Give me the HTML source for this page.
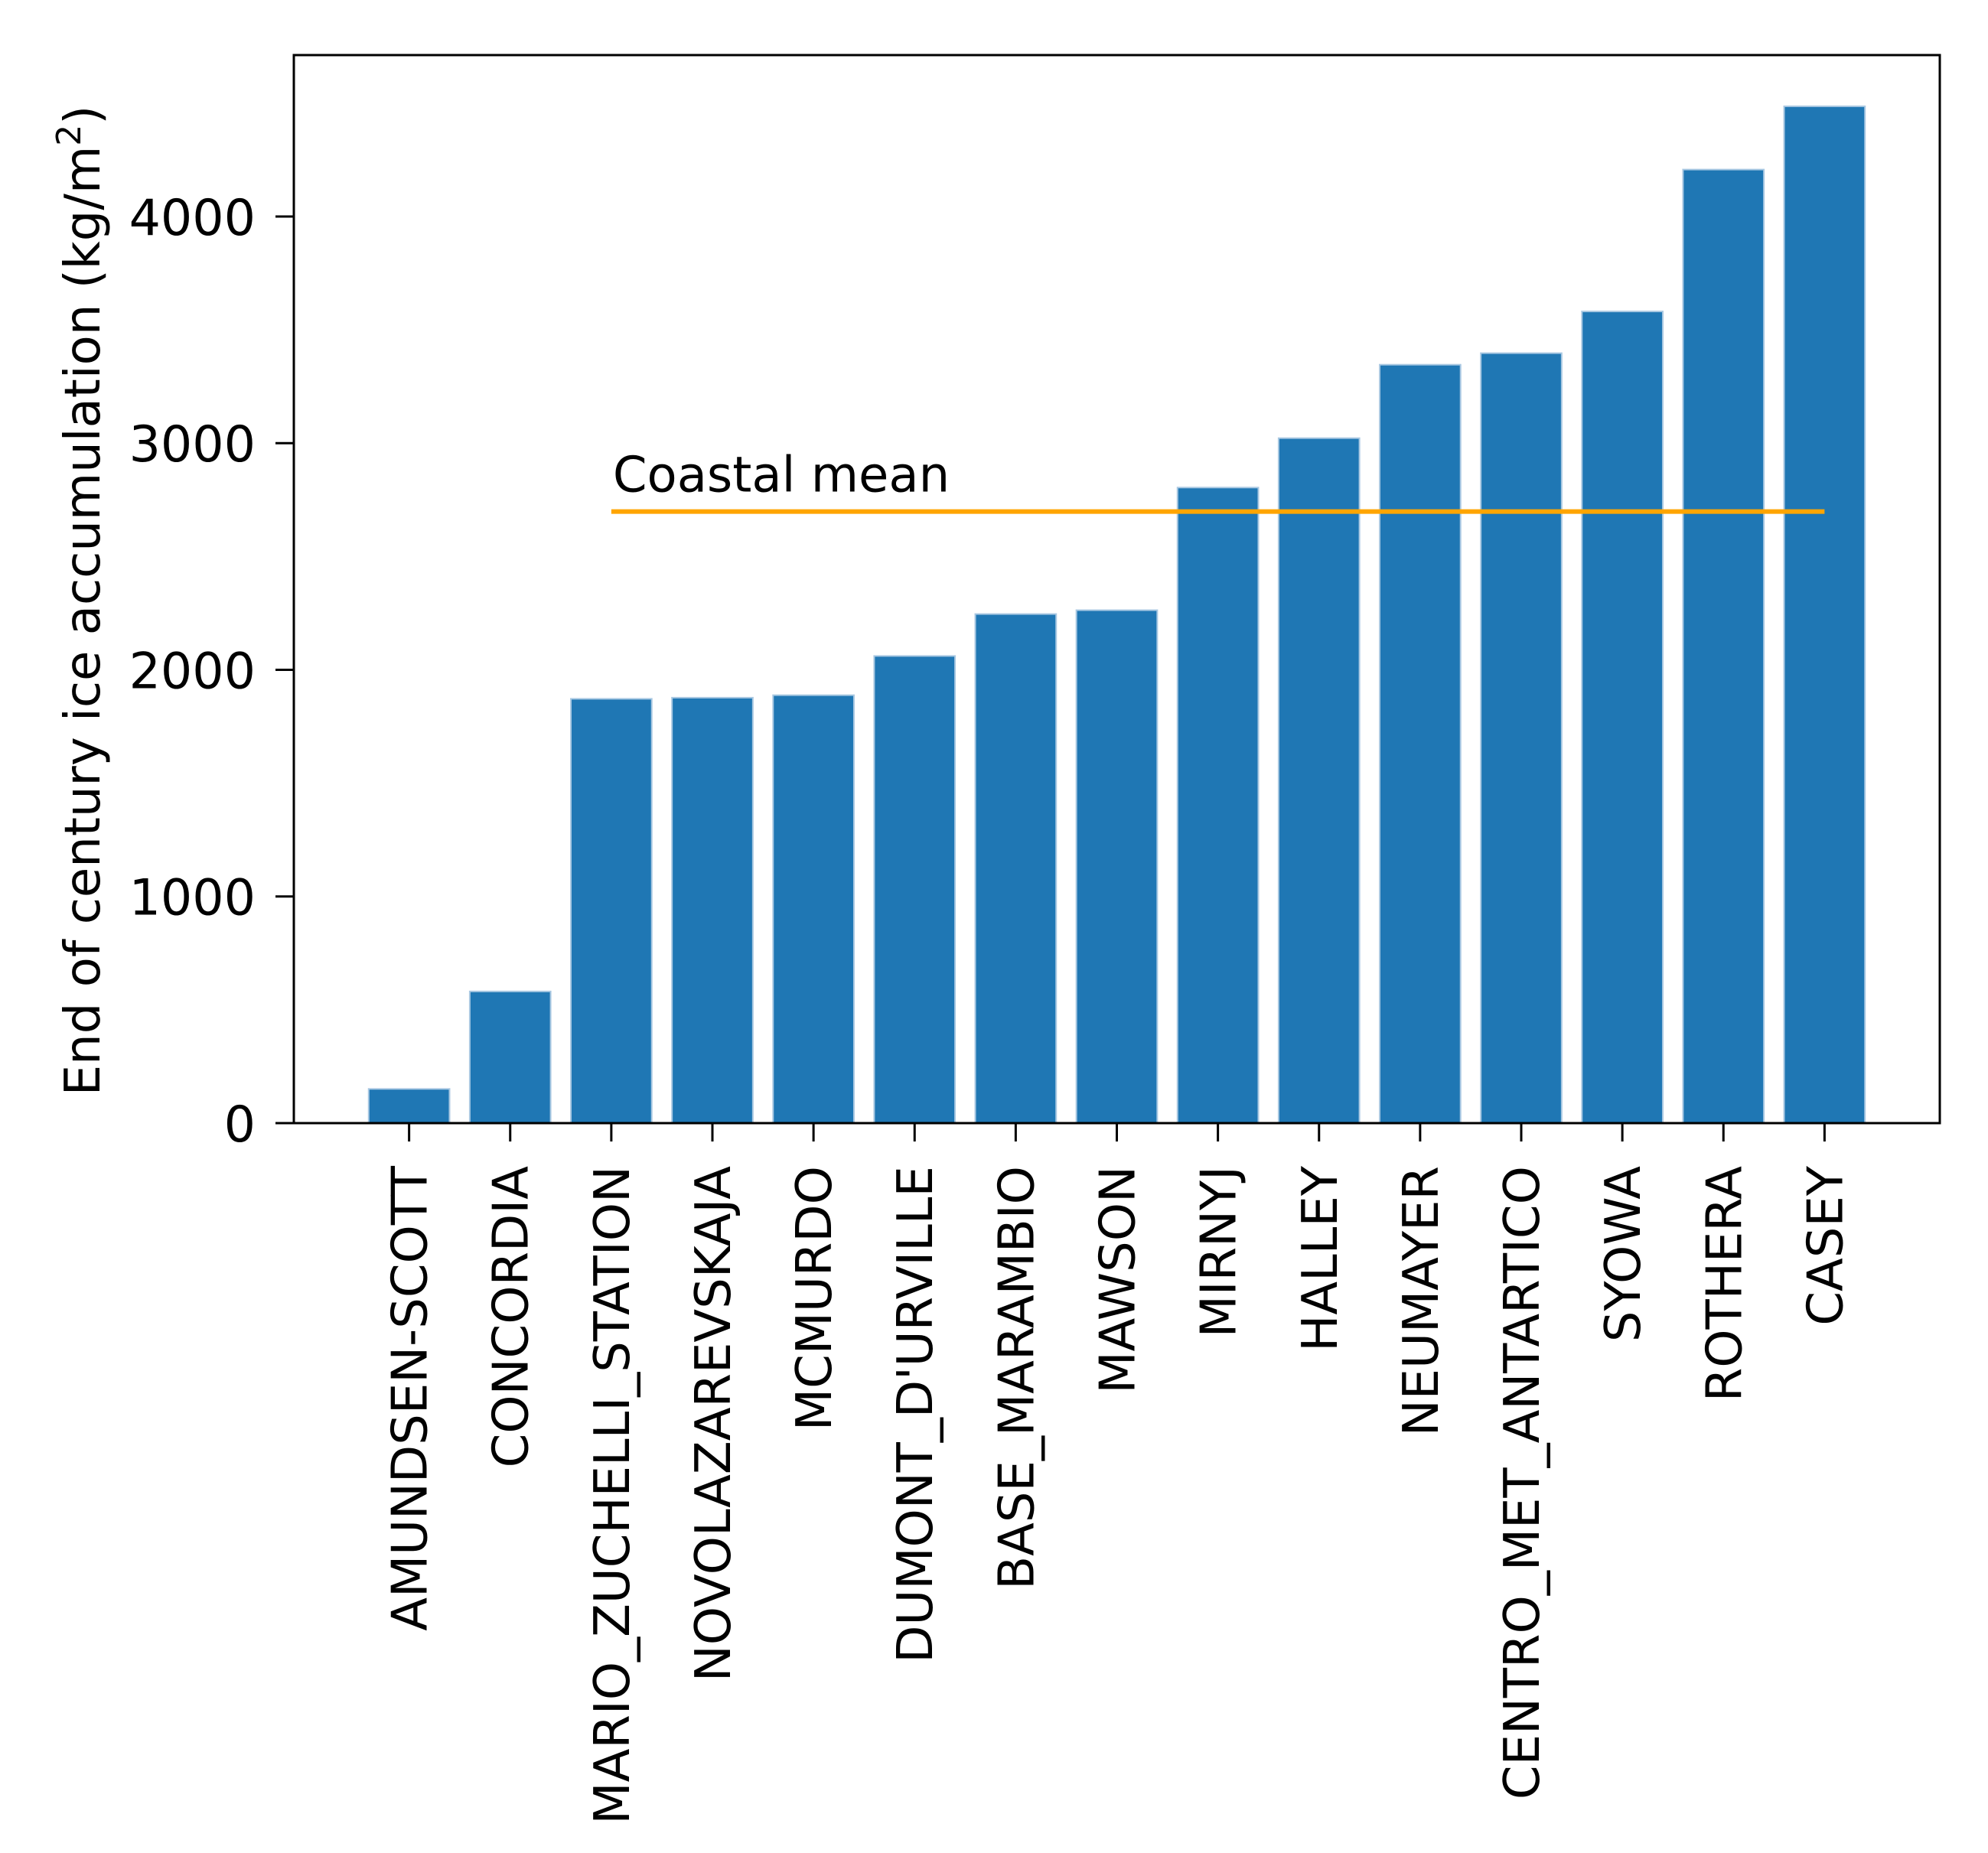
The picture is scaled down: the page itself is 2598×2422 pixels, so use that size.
<!DOCTYPE html>
<html><head><meta charset="utf-8"><style>
html,body{margin:0;padding:0;background:#fff;}
svg{display:block;font-family:"DejaVu Sans","Liberation Sans",sans-serif;}
</style></head><body>
<svg id="chart" width="2598" height="2422" viewBox="0 0 2598 2422" xmlns="http://www.w3.org/2000/svg">
<rect x="0" y="0" width="2598" height="2422" fill="#fff"/>
<g id="plot"></g>
</svg>
<script>
const categories = ["AMUNDSEN-SCOTT","CONCORDIA","MARIO_ZUCHELLI_STATION","NOVOLAZAREVSKAJA","MCMURDO","DUMONT_D'URVILLE","BASE_MARAMBIO","MAWSON","MIRNYJ","HALLEY","NEUMAYER","CENTRO_MET_ANTARTICO","SYOWA","ROTHERA","CASEY"];
const values = [151,581,1872,1877,1888,2061,2246,2263,2804,3022,3346,3397,3581,4207,4486];
const yTicks = [0,1000,2000,3000,4000];
const coastalMean = 2698;
const coastalStart = 2;
const coastalEnd = 14;

const NS = "http://www.w3.org/2000/svg";
const L = 384, R = 2535, T = 72, B = 1468;
const xMin = -1.14, xMax = 15.14, yMax = 4712;
function xs(v){ return L + (v - xMin) / (xMax - xMin) * (R - L); }
function ys(v){ return B - v / yMax * (B - T); }
const g = document.getElementById('plot');
function mk(tag, attrs){ const e = document.createElementNS(NS, tag); for (const k in attrs) e.setAttribute(k, attrs[k]); g.appendChild(e); return e; }

values.forEach((v, i) => {
  const r = mk('rect', {x: xs(i - 0.4), y: ys(v), width: xs(i + 0.4) - xs(i - 0.4), height: B - ys(v), fill: '#1f77b4', stroke: '#a9c8e2', 'stroke-width': 2});
  
  
});

const ml = mk('line', {x1: xs(coastalStart), x2: xs(coastalEnd), y1: ys(coastalMean), y2: ys(coastalMean), stroke: '#ffa500', 'stroke-width': 6});


const mt = mk('text', {x: xs(coastalStart) + 2, y: ys(coastalMean) - 26, 'font-size': 64, fill: '#000'});
mt.textContent = 'Coastal mean';



const frame = mk('rect', {x: L, y: T, width: R - L, height: B - T, fill: 'none', stroke: '#000', 'stroke-width': 3});



yTicks.forEach(t => {
  const y = ys(t);
  const tk = mk('line', {x1: L - 24, x2: L, y1: y, y2: y, stroke: '#000', 'stroke-width': 3});
  
  
  const tx = mk('text', {x: L - 50, y: y + 24, 'font-size': 65, 'text-anchor': 'end', fill: '#000'});
  tx.textContent = t;
  
  
});

categories.forEach((c, i) => {
  const x = xs(i);
  const tk = mk('line', {x1: x, x2: x, y1: B, y2: B + 24, stroke: '#000', 'stroke-width': 3});
  
  
  const tx = mk('text', {x: 0, y: 0, 'font-size': 64, 'text-anchor': 'end', fill: '#000', transform: 'translate(' + (x + 23) + ',' + (B + 56) + ') rotate(-90)'});
  tx.textContent = c;
  
  
});

const yl = mk('text', {x: 0, y: 0, 'font-size': 64, 'text-anchor': 'middle', fill: '#000', transform: 'translate(130,785) rotate(-90)'});
yl.innerHTML = 'End of century ice accumulation (kg/m<tspan baseline-shift="super" font-size="44">2</tspan>)';


</script>
</body></html>
